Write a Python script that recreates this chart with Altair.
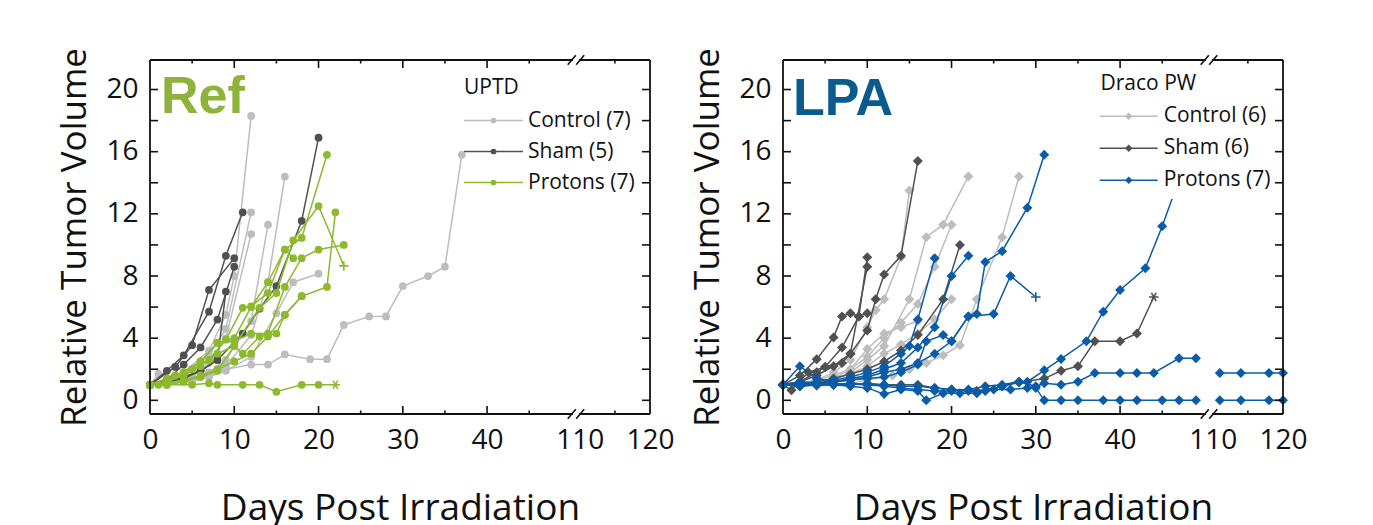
import altair as alt
import pandas as pd

# ---------------- data (days post irradiation, relative tumor volume) ----------------
ref_control = {
    "C1": ([0, 2, 4, 7, 9, 10, 12], [1, 1.3, 1.8, 3.2, 5.5, 8.0, 18.3]),
    "C2": ([0, 2, 4, 7, 9, 12], [1, 1.2, 1.6, 2.9, 4.6, 12.1]),
    "C3": ([0, 2, 5, 7, 9, 12], [1, 1.1, 1.5, 2.4, 4.0, 10.7]),
    "C4": ([0, 2, 5, 7, 9, 12, 14], [1, 1.0, 1.3, 1.8, 2.6, 5.1, 11.3]),
    "C5": ([0, 2, 5, 7, 9, 12, 14, 16], [1, 1.1, 1.3, 1.6, 2.2, 4.2, 7.6, 14.4]),
    "C6": ([0, 2, 5, 7, 9, 12, 15, 17, 20], [1, 1.1, 1.2, 1.5, 1.9, 2.8, 5.6, 7.6, 8.15]),
    "C7": ([0, 1, 5, 7, 9, 12, 14, 16, 19, 21, 23, 26, 28, 30, 33, 35, 37],
           [1, 1.7, 1.2, 1.6, 2.0, 2.3, 2.3, 2.95, 2.65, 2.65, 4.85, 5.4, 5.4, 7.35, 8.0, 8.6, 15.8]),
}
ref_sham = {
    "S1": ([0, 2, 4, 7, 9, 11], [1, 1.9, 2.9, 5.7, 9.3, 12.1]),
    "S2": ([0, 3, 5, 7, 10], [1, 2.15, 3.55, 7.1, 9.15]),
    "S3": ([0, 2, 4, 6, 8, 10], [1, 1.3, 2.3, 3.4, 5.2, 8.6]),
    "S4": ([0, 2, 4, 6, 8, 9], [1, 1.2, 1.5, 1.9, 2.6, 7.0]),
    "S5": ([0, 2, 4, 6, 8, 11, 13, 15, 18, 20], [1, 1.2, 1.4, 1.9, 2.6, 4.3, 5.9, 7.35, 11.55, 16.9]),
}
ref_protons = {
    "G1": ([0, 2, 5, 7, 8, 11, 13, 15, 18, 20, 22], [1, 1.0, 1.0, 1.1, 1.0, 1.0, 1.0, 0.55, 1.0, 1.0, 1.0]),
    "G2": ([0, 2, 4, 6, 8, 10, 12, 14, 16, 18, 21], [1, 1.4, 1.8, 2.5, 3.7, 4.0, 6.0, 7.6, 9.7, 10.45, 15.8]),
    "G3": ([0, 2, 4, 6, 8, 10, 13, 15, 17, 20, 23], [1, 1.2, 1.6, 2.2, 3.0, 3.5, 5.95, 6.9, 10.3, 12.5, 8.65]),
    "G4": ([0, 2, 4, 6, 8, 10, 12, 14, 16, 18, 21, 22], [1, 1.1, 1.3, 1.6, 2.0, 2.5, 3.0, 4.1, 5.5, 6.7, 7.3, 12.1]),
    "G5": ([0, 2, 4, 6, 8, 10, 12, 14, 16, 18, 20, 23], [1, 1.2, 1.8, 2.5, 3.7, 3.8, 4.3, 4.3, 7.3, 9.15, 9.7, 10.0]),
    "G6": ([0, 1, 3, 5, 7, 9, 11, 12, 14, 16, 17], [1, 1.0, 1.6, 2.0, 2.6, 3.9, 5.95, 6.05, 6.9, 9.7, 9.15]),
    "G7": ([0, 2, 4, 6, 8, 10, 11, 13, 15, 16, 18], [1, 1.0, 1.2, 1.5, 1.9, 3.5, 3.0, 4.1, 4.3, 5.5, 6.7]),
}
ref_end = {"G1": "star", "G3": "plus"}

lpa_control = {
    "LC1": ([0, 2, 4, 6, 8, 10, 11, 12, 14, 15], [1, 1.1, 1.3, 1.8, 2.6, 4.7, 5.8, 6.5, 9.2, 13.5]),
    "LC2": ([0, 2, 4, 6, 8, 10, 12, 15, 17, 19, 22], [1, 0.9, 1.1, 1.3, 1.8, 2.6, 3.5, 6.5, 10.5, 11.3, 14.4]),
    "LC3": ([0, 2, 4, 6, 8, 10, 12, 14, 16, 18, 20], [1, 1.0, 1.1, 1.4, 2.0, 2.8, 4.0, 5.0, 6.2, 8.6, 11.3]),
    "LC4": ([0, 2, 4, 6, 8, 10, 13, 15, 17, 19, 21, 23, 26, 28],
            [1, 1.0, 0.9, 1.0, 1.1, 1.3, 1.6, 2.0, 2.4, 2.9, 3.55, 6.5, 10.5, 14.4]),
    "LC5": ([0, 2, 4, 6, 8, 10, 12, 14, 16, 18, 20], [1, 1.1, 1.2, 1.4, 1.7, 2.2, 3.0, 3.6, 4.3, 5.2, 6.5]),
    "LC6": ([0, 2, 4, 6, 8, 10, 12, 14, 16], [1, 1.1, 1.3, 1.6, 2.0, 3.3, 4.3, 4.7, 5.1]),
}
lpa_sham = {
    "LS1": ([0, 2, 4, 6, 8, 10, 11, 12, 14, 16], [1, 1.2, 1.6, 2.2, 3.0, 4.5, 6.5, 8.1, 9.3, 15.4]),
    "LS2": ([0, 2, 4, 6, 7, 8, 9, 10], [1, 1.6, 2.65, 4.05, 5.4, 5.6, 5.4, 9.2]),
    "LS3": ([0, 2, 4, 5, 7, 8, 10], [1, 1.2, 1.8, 2.15, 2.4, 3.0, 8.6]),
    "LS4": ([0, 1, 3, 5, 7, 9, 10], [1, 0.65, 1.8, 2.15, 3.4, 5.4, 5.6]),
    "LS5": ([0, 2, 4, 6, 8, 10, 12, 14, 16, 19, 21], [1, 1.1, 1.2, 1.4, 1.7, 2.0, 2.5, 3.2, 4.2, 6.5, 10.0]),
    "LS6": ([0, 2, 4, 6, 8, 10, 12, 14, 16, 18, 20, 23, 26, 28, 31, 33, 35, 37, 40, 42, 44],
            [1, 0.9, 1.0, 1.1, 1.0, 1.1, 1.0, 1.0, 1.0, 0.8, 0.7, 0.6, 0.9, 1.15, 1.4, 1.9, 2.2, 3.8, 3.8, 4.3, 6.65]),
}
lpa_protons = {
    "LP1": ([0, 2, 4, 6, 8, 10, 12, 14, 15, 16, 18], [1, 1.2, 1.1, 1.3, 1.5, 1.8, 2.2, 3.0, 3.5, 5.2, 9.15]),
    "LP2": ([0, 2, 4, 6, 8, 10, 12, 14, 16, 18, 20, 22], [1, 1.1, 1.0, 1.2, 1.4, 1.6, 2.0, 2.4, 3.4, 4.7, 8.0, 9.3]),
    "LP3": ([0, 2, 4, 6, 8, 10, 12, 14, 16, 18, 20, 22, 23, 24, 26, 29, 31],
            [1, 2.2, 1.4, 1.2, 1.3, 1.5, 1.8, 2.0, 2.4, 3.0, 3.8, 5.4, 5.55, 8.9, 9.6, 12.4, 15.8]),
    "LP4": ([0, 2, 4, 6, 8, 10, 12, 14, 16, 17, 19, 20, 22, 25, 27, 30],
            [1, 1.0, 1.1, 1.2, 1.3, 1.4, 1.5, 1.8, 2.3, 3.8, 4.2, 3.8, 5.4, 5.55, 8.0, 6.65]),
    "LP5": ([0, 2, 4, 6, 8, 10, 12, 14, 16, 18, 20, 22, 24, 26, 28, 29, 31, 33, 36, 38, 40, 43, 45, 48.5],
            [1, 1, 1, 1, 1.05, 1, 0.9, 0.8, 0.7, 0.6, 0.6, 0.7, 0.9, 1.0, 1.2, 1.2, 1.93, 2.66, 3.8, 5.7, 7.1, 8.5, 11.2, 16.5]),
    "LP6": ([0, 2, 4, 6, 8, 10, 12, 14, 16, 18, 20, 22, 24, 26, 28, 30, 31, 33, 35, 37, 40, 42, 44, 47, 49,
             111, 114, 118, 120],
            [1, 1.1, 1.0, 1.0, 1.1, 1.0, 1.0, 0.9, 0.9, 0.8, 0.7, 0.6, 0.6, 0.9, 1.2, 0.9, 1.1, 1.0, 1.2, 1.76, 1.76,
             1.76, 1.76, 2.7, 2.7, 1.76, 1.76, 1.76, 1.76]),
    "LP7": ([0, 2, 4, 6, 8, 10, 12, 14, 16, 17, 19, 21, 23, 25, 27, 29, 30, 31, 33, 35, 38, 40, 42, 45, 47, 49,
             111, 114, 118, 120],
            [1, 0.9, 1.0, 1.0, 0.9, 0.8, 0.4, 0.7, 0.6, 0.0, 0.45, 0.45, 0.45, 0.7, 0.7, 0.8, 0.8, 0.0, 0, 0, 0, 0, 0,
             0, 0, 0, 0, 0, 0, 0]),
}
lpa_end = {"LS6": "star", "LP4": "plus"}

x_major_ticks = [10, 20, 30, 40]
x_minor_ticks = [5, 15, 25, 35, 45, 115]
y_ticks = [0, 2, 4, 6, 8, 10, 12, 14, 16, 18, 20]
y_labels = [0, 4, 8, 12, 16, 20]
break_marks = [50.05, 51.05]

# ---------------- styling ----------------
W, H = 500, 354
XMAX = 51 + 10 * 10 / 12
YDOM = [-0.88, 21.9]
U_EXPR = "datum.day <= 50 ? datum.day : 51 + (datum.day - 110) * 10 / 12"
FRAME = "#111111"
LIGHT, DARK = "#bdbdbd", "#505050"
GREEN, BLUE = "#8cb92d", "#0a5ca8"
PLUS = "M-1,0L1,0M0,-1L0,1"
STAR = "M-1,0L1,0M-0.5,-0.87L0.5,0.87M-0.5,0.87L0.5,-0.87"
SLASH = "M-0.85,1L0.85,-1"

XS = alt.Scale(domain=[0, XMAX], nice=False, zero=False)
YS = alt.Scale(domain=YDOM, nice=False, zero=False)
XAXIS = alt.Axis(values=[0, 10, 20, 30, 40, 51, XMAX],
                 labelExpr="datum.value > 50.5 ? format(round(110 + (datum.value - 51) * 1.2), 'd') : format(datum.value, 'd')",
                 ticks=False, tickSize=0, domain=False, grid=False, labelFlush=False, labelOverlap=False,
                 labelPadding=12, title="Days Post Irradiation", titlePadding=36, titleFontSize=37)
YAXIS = alt.Axis(values=y_labels, ticks=False, tickSize=0, domain=False, grid=False, labelFlush=False,
                 labelPadding=12, title="Relative Tumor Volume", titlePadding=13, titleFontSize=35)
X = alt.X("u:Q", scale=XS, axis=XAXIS)
Y = alt.Y("val:Q", scale=YS, axis=YAXIS)


def series_frame(ser, ends):
    rows = []
    for sname, (days, vals) in ser.items():
        for k, (d, v) in enumerate(zip(days, vals)):
            last = k == len(days) - 1
            rows.append({"sid": sname + ("b" if d >= 110 else "a"), "day": d, "val": v,
                         "mk": ends.get(sname, "o") if last else "o"})
    return pd.DataFrame(rows)


def group_layers(ser, ends, color, shape, size):
    df = series_frame(ser, ends)
    layers = [
        alt.Chart(df).transform_calculate(u=U_EXPR).mark_line(color=color, strokeWidth=1.5)
        .encode(x=X, y=Y, detail="sid:N", order="day:Q"),
        alt.Chart(df[df.mk == "o"]).transform_calculate(u=U_EXPR)
        .mark_point(shape=shape, filled=True, size=size, color=color, opacity=1, strokeWidth=0)
        .encode(x=X, y=Y),
    ]
    e = df[df.mk != "o"]
    if len(e):
        layers.append(
            alt.Chart(e).transform_calculate(u=U_EXPR)
            .mark_point(filled=False, color=color, opacity=1, strokeWidth=1.6, size=90)
            .encode(x=X, y=Y, shape=alt.Shape("mk:N", scale=alt.Scale(domain=["plus", "star"], range=[PLUS, STAR]),
                                             legend=None))
        )
    return layers


def frame_layers():
    one = pd.DataFrame({"a": [0]})
    maj = pd.DataFrame({"day": x_major_ticks})
    mnr = pd.DataFrame({"day": x_minor_ticks})
    yt = pd.DataFrame({"val": y_ticks})
    brk = pd.DataFrame({"u": break_marks})
    rule = dict(color=FRAME, strokeWidth=1.8)
    L = []
    L.append(alt.Chart(one).mark_rule(**rule).encode(x=alt.value(0), y=alt.value(0), y2=alt.value(H)))
    L.append(alt.Chart(one).mark_rule(**rule).encode(x=alt.value(W), y=alt.value(0), y2=alt.value(H)))
    for yy in (0, H):
        L.append(alt.Chart(one).mark_rule(**rule).encode(
            x=alt.X(datum=0, type="quantitative", scale=XS, axis=XAXIS), x2=alt.X2(datum=50.2), y=alt.value(yy)))
        L.append(alt.Chart(one).mark_rule(**rule).encode(
            x=alt.X(datum=50.9, type="quantitative", scale=XS, axis=XAXIS), x2=alt.X2(datum=XMAX), y=alt.value(yy)))
        L.append(alt.Chart(brk).mark_point(shape=SLASH, size=90, color=FRAME, strokeWidth=1.6, opacity=1)
                 .encode(x=X, y=alt.value(yy)))
    tk = dict(color=FRAME, strokeWidth=1.6)
    L.append(alt.Chart(maj).transform_calculate(u=U_EXPR).mark_rule(**tk).encode(x=X, y=alt.value(H), y2=alt.value(H - 8)))
    L.append(alt.Chart(maj).transform_calculate(u=U_EXPR).mark_rule(**tk).encode(x=X, y=alt.value(0), y2=alt.value(8)))
    L.append(alt.Chart(mnr).transform_calculate(u=U_EXPR).mark_rule(**tk).encode(x=X, y=alt.value(H), y2=alt.value(H - 3.5)))
    L.append(alt.Chart(mnr).transform_calculate(u=U_EXPR).mark_rule(**tk).encode(x=X, y=alt.value(0), y2=alt.value(3.5)))
    L.append(alt.Chart(yt).mark_rule(**tk).encode(y=Y, x=alt.value(0), x2=alt.value(8)))
    L.append(alt.Chart(yt).mark_rule(**tk).encode(y=Y, x=alt.value(W), x2=alt.value(W - 8)))
    return L


def legend_layers(title, rows, pos, shape, size, bg):
    tx, ty, x0, x1, xm, xt, ys = pos
    L = []
    one = pd.DataFrame({"a": [0]})
    if bg:
        L.append(alt.Chart(one).mark_rect(color="white").encode(
            x=alt.value(bg[0]), x2=alt.value(bg[1]), y=alt.value(bg[2]), y2=alt.value(bg[3])))
    L.append(alt.Chart(pd.DataFrame({"t": [title]})).mark_text(
        font="Open Sans", fontSize=21, align="left", baseline="middle", color="#111111")
        .encode(text="t:N", x=alt.value(tx), y=alt.value(ty)))
    for (label, color), yy in zip(rows, ys):
        L.append(alt.Chart(one).mark_rule(color=color, strokeWidth=1.5).encode(
            x=alt.value(x0), x2=alt.value(x1), y=alt.value(yy)))
        L.append(alt.Chart(one).mark_point(shape=shape, filled=True, size=size, color=color, opacity=1, strokeWidth=0)
                 .encode(x=alt.value(xm), y=alt.value(yy)))
        L.append(alt.Chart(pd.DataFrame({"t": [label]})).mark_text(
            font="Open Sans", fontSize=21, align="left", baseline="middle", color="#111111")
            .encode(text="t:N", x=alt.value(xt), y=alt.value(yy)))
    return L


def panel(groups, ends, shape, size, tag, tag_color, tag_pos, leg_title, leg_rows, leg_pos, bg):
    layers = []
    for ser, color in groups:
        layers += group_layers(ser, ends, color, shape, size)
    layers += legend_layers(leg_title, leg_rows, leg_pos, shape, size * 0.55, bg)
    layers += frame_layers()
    layers.append(alt.Chart(pd.DataFrame({"t": [tag]})).mark_text(
        font="Liberation Sans", fontWeight="bold", fontSize=52, align="left", baseline="alphabetic", color=tag_color)
        .encode(text="t:N", x=alt.value(tag_pos[0]), y=alt.value(tag_pos[1])))
    return alt.layer(*layers).properties(width=W, height=H)


left = panel([(ref_control, LIGHT), (ref_sham, DARK), (ref_protons, GREEN)], ref_end, "circle", 60,
             "Ref", "#8db33a", (11, 52.5), "UPTD",
             [("Control (7)", LIGHT), ("Sham (5)", DARK), ("Protons (7)", GREEN)],
             (314, 28.3, 314, 373, 343.5, 378, [60.5, 91.5, 122.5]), None)
right = panel([(lpa_control, LIGHT), (lpa_sham, DARK), (lpa_protons, BLUE)], lpa_end, "diamond", 100,
              "LPA", "#0b5a8e", (10, 54.5), "Draco PW",
              [("Control (6)", LIGHT), ("Sham (6)", DARK), ("Protons (7)", BLUE)],
              (317.5, 24.3, 316.7, 374.7, 345.7, 380.7, [56.3, 88.3, 120.3]), (305, 497, 4, 139))

chart = alt.hconcat(left, right, spacing=15).properties(
    padding={"left": 57, "top": 47, "right": 0, "bottom": 0}
).configure_view(stroke=None).configure_axis(
    labelFont="Open Sans", labelFontSize=28, labelColor="#111111",
    titleFont="Open Sans", titleFontWeight="normal", titleColor="#111111"
)

chart.save("out.html", embed_options={"renderer": "svg", "actions": False})
